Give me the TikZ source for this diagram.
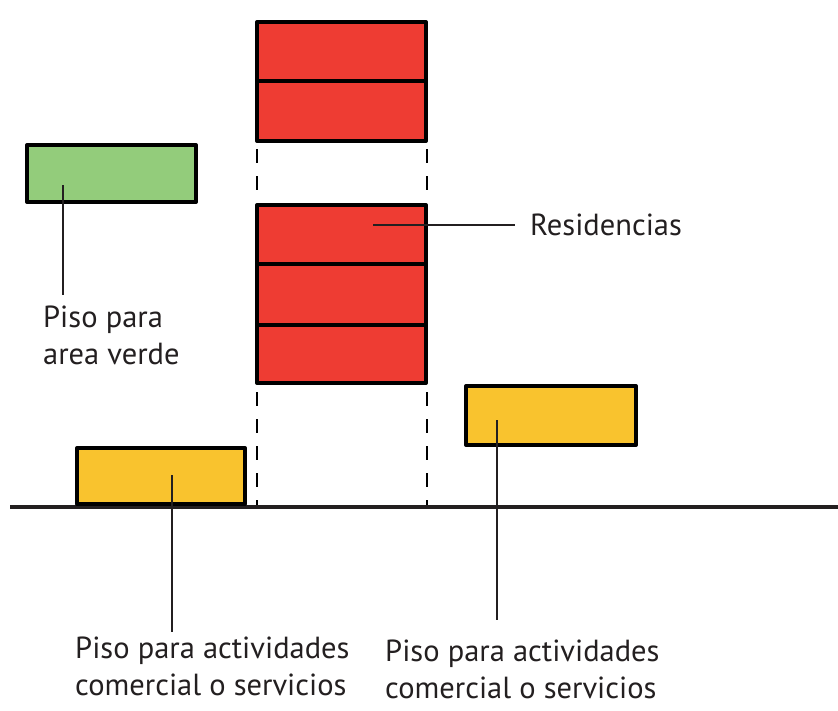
\documentclass[tikz,border=0pt]{standalone}
\usepackage{fontspec}
\setmainfont{PT Sans}
\definecolor{resred}{HTML}{EE3C33}
\definecolor{greenfl}{HTML}{93CC7B}
\definecolor{yellowfl}{HTML}{F9C32E}
\definecolor{txt}{HTML}{231F20}
\begin{document}
\begin{tikzpicture}[x=1pt,y=-1pt,
  floor/.style={draw=black,line width=4pt,line join=round,inner sep=0pt,outer sep=0pt,anchor=north west},
  leader/.style={draw=txt,line width=1.5pt},
  guide/.style={draw=black,line width=1.8pt,dash pattern=on 14pt off 13pt},
  lbl/.style={font=\fontsize{30.5}{37}\selectfont,text=txt,inner sep=0pt,align=left}]
\useasboundingbox (0,0) rectangle (838,710);
% ground
\draw[line width=4pt,draw=txt] (10,507) coordinate (g0) -- (838,507) coordinate (g1);
% dashed guides
\draw[guide] (257,149) coordinate (da1) -- (257,201) coordinate (da2);
\draw[guide] (427,149) coordinate (db1) -- (427,201) coordinate (db2);
\draw[guide] (257,392) coordinate (dc1) -- (257,505) coordinate (dc2);
\draw[guide] (427,392) coordinate (dd1) -- (427,505) coordinate (dd2);
% residences
\node[floor,fill=resred,minimum width=169pt,minimum height=119pt] (top) at (257,22) {};
\draw[line width=4pt] (257,81) coordinate (t1) -- (426,81) coordinate (t2);
\node[floor,fill=resred,minimum width=169pt,minimum height=178pt] (mid) at (257,205) {};
\draw[line width=4pt] (257,264) coordinate (m1) -- (426,264) coordinate (m2);
\draw[line width=4pt] (257,325) coordinate (m3) -- (426,325) coordinate (m4);
% green
\node[floor,fill=greenfl,minimum width=169pt,minimum height=57pt] (green) at (27,145) {};
% yellow
\node[floor,fill=yellowfl,minimum width=168pt,minimum height=56pt] (yl) at (77,448) {};
\node[floor,fill=yellowfl,minimum width=170pt,minimum height=59pt] (yr) at (466,386) {};
% labels
\node[lbl,anchor=west] (lres) at (530,225) {Residencias};
\node[lbl,anchor=north west] (lgreen) at (43,306) {Piso para\\area verde};
\node[lbl,anchor=north west] (lyl) at (75,637) {Piso para actividades\\comercial o servicios};
\node[lbl,anchor=north west] (lyr) at (385,640) {Piso para actividades\\comercial o servicios};
% leaders
\coordinate (cres) at (373,225);
\coordinate (cres2) at (515,225);
\draw[leader] (cres) -- (cres2);
\coordinate (cg) at (63,185);
\coordinate (cg2) at (63,295);
\draw[leader] (cg) -- (cg2);
\coordinate (cyl) at (172,475);
\coordinate (cyl2) at (172,632);
\draw[leader] (cyl) -- (cyl2);
\coordinate (cyr) at (497,420);
\coordinate (cyr2) at (497,620);
\draw[leader] (cyr) -- (cyr2);
\end{tikzpicture}
\end{document}
